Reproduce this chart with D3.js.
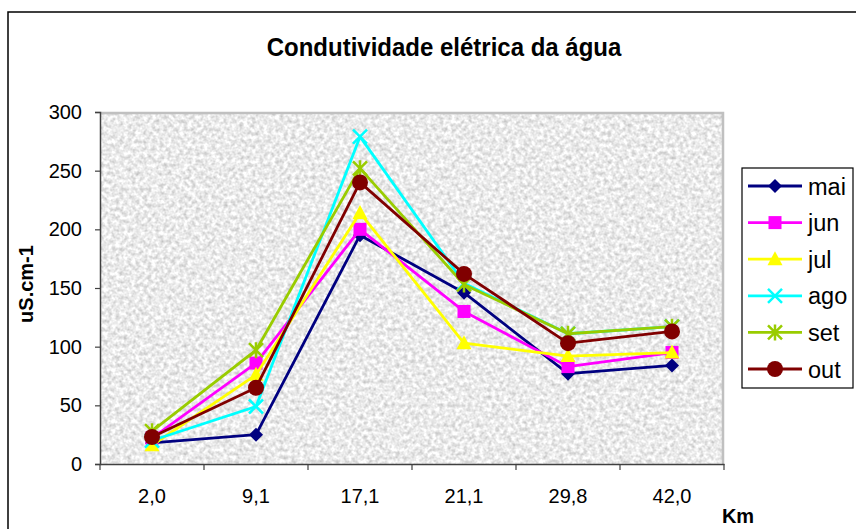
<!DOCTYPE html>
<html>
<head>
<meta charset="utf-8">
<script src="https://cdn.jsdelivr.net/npm/d3@7"></script>
<style>
  html, body { margin: 0; padding: 0; background: #fff; }
  svg { display: block; font-family: "Liberation Sans", Arial, sans-serif; }
</style>
</head>
<body>
<svg id="chart" width="856" height="529"></svg>
<script>
// ---- data ----
const categories = ["2,0", "9,1", "17,1", "21,1", "29,8", "42,0"];
const seriesNames = ["mai", "jun", "jul", "ago", "set", "out"];
const mai = [18, 25, 195, 146, 77, 84];
const jun = [22, 86, 200, 130, 83, 95];
const jul = [16, 76, 214, 103, 92, 95];
const ago = [20, 49, 279, 154, 111, 117];
const set = [28, 97, 252, 153, 111, 117];
const out = [23, 65, 240, 162, 103, 113];
const yTicks = [0, 50, 100, 150, 200, 250, 300];
const colors = ["#000080", "#FF00FF", "#FFFF00", "#00FFFF", "#99CC00", "#800000"];
const markers = ["diamond", "square", "triangle", "cross", "asterisk", "circle"];
const values = [mai, jun, jul, ago, set, out];

const svg = d3.select("#chart");
const plot = { left: 100, right: 724, top: 112, bottom: 464 };

// outer frame
svg.append("rect").attr("x", 8).attr("y", 12).attr("width", 900).attr("height", 600)
  .attr("fill", "none").attr("stroke", "#000").attr("stroke-width", 1.5);

// texture filter
const defs = svg.append("defs");
const f = defs.append("filter").attr("id", "granite")
  .attr("x", 0).attr("y", 0).attr("width", 1).attr("height", 1)
  .attr("color-interpolation-filters", "sRGB");
f.append("feTurbulence").attr("type", "fractalNoise").attr("baseFrequency", 0.25)
  .attr("numOctaves", 3).attr("seed", 7).attr("result", "noise");
f.append("feColorMatrix").attr("in", "noise").attr("type", "matrix")
  .attr("values", "0.4 0 0 0 0.72  0.4 0 0 0 0.72  0.4 0 0 0 0.72  0 0 0 0 1")
  .attr("result", "gray");
f.append("feComposite").attr("in", "gray").attr("in2", "SourceGraphic").attr("operator", "in");

const x = d3.scaleBand().domain(categories).range([plot.left, plot.right]).padding(0);
const y = d3.scaleLinear().domain([0, 300]).range([plot.bottom, plot.top]);
const cx = d => x(d) + x.bandwidth() / 2;

// plot area
svg.append("rect").attr("x", plot.left).attr("y", plot.top)
  .attr("width", plot.right - plot.left).attr("height", plot.bottom - plot.top)
  .attr("fill", "#ececec").attr("filter", "url(#granite)");
svg.append("path")
  .attr("d", `M${plot.left},${plot.top + 1}H${plot.right - 1}V${plot.bottom}`)
  .attr("fill", "none").attr("stroke", "#c0c0c0").attr("stroke-width", 2.5);

// title
svg.append("text").attr("transform", "translate(444,56) scale(1,1.1)").attr("text-anchor", "middle")
  .attr("font-size", 24).attr("font-weight", "bold").text("Condutividade elétrica da água");

// y axis
const yAxis = d3.axisLeft(y).tickValues(yTicks).tickSize(5).tickPadding(13);
const gy = svg.append("g").attr("transform", `translate(${plot.left},0)`).call(yAxis);
gy.select(".domain").attr("stroke", "#404040").attr("stroke-width", 1.5);
gy.selectAll(".tick line").attr("stroke", "#404040").attr("stroke-width", 1.2);
gy.selectAll(".tick text").attr("font-size", 20).attr("font-family", "Liberation Sans, Arial, sans-serif").attr("fill", "#000");

// x axis
const xAxis = d3.axisBottom(x).tickSize(0).tickPadding(25);
const gx = svg.append("g").attr("transform", `translate(0,${plot.bottom})`).call(xAxis);
gx.select(".domain").attr("stroke", "#404040").attr("stroke-width", 1.5);
gx.selectAll(".tick text").attr("font-size", 20).attr("font-family", "Liberation Sans, Arial, sans-serif").attr("fill", "#000");
const edges = categories.map(c => x(c)).concat([plot.right]);
gx.selectAll(".edge").data(edges).enter().append("line")
  .attr("x1", d => d).attr("x2", d => d).attr("y1", 0).attr("y2", 6)
  .attr("stroke", "#404040").attr("stroke-width", 1.2);

// axis titles
svg.append("text").attr("transform", "translate(33,284) rotate(-90)")
  .attr("text-anchor", "middle").attr("font-size", 20).attr("font-weight", "bold").text("uS.cm-1");
svg.append("text").attr("x", 738).attr("y", 523).attr("text-anchor", "middle")
  .attr("font-size", 20).attr("font-weight", "bold").text("Km");

function drawMarker(g, type, color, px, py) {
  const s = 7;
  if (type === "diamond") {
    g.append("path").attr("d", `M${px},${py - s}L${px + s},${py}L${px},${py + s}L${px - s},${py}Z`).attr("fill", color);
  } else if (type === "square") {
    g.append("rect").attr("x", px - 6.5).attr("y", py - 6.5).attr("width", 13).attr("height", 13).attr("fill", color);
  } else if (type === "triangle") {
    g.append("path").attr("d", `M${px},${py - 8}L${px + 7.5},${py + 6}L${px - 7.5},${py + 6}Z`).attr("fill", color);
  } else if (type === "cross") {
    g.append("path").attr("d", `M${px - 7},${py - 7}L${px + 7},${py + 7}M${px + 7},${py - 7}L${px - 7},${py + 7}`)
      .attr("stroke", color).attr("stroke-width", 2.5).attr("fill", "none");
  } else if (type === "asterisk") {
    g.append("path").attr("d", `M${px - 7},${py - 7}L${px + 7},${py + 7}M${px + 7},${py - 7}L${px - 7},${py + 7}M${px},${py - 8}L${px},${py + 8}`)
      .attr("stroke", color).attr("stroke-width", 2.5).attr("fill", "none");
  } else if (type === "circle") {
    g.append("circle").attr("cx", px).attr("cy", py).attr("r", 8).attr("fill", color);
  }
}

const line = d3.line().x((d, i) => cx(categories[i])).y(d => y(d));
values.forEach((vals, si) => {
  const g = svg.append("g");
  g.append("path").attr("d", line(vals)).attr("fill", "none")
    .attr("stroke", colors[si]).attr("stroke-width", 2.8).attr("stroke-linejoin", "round");
  vals.forEach((v, i) => drawMarker(g, markers[si], colors[si], cx(categories[i]), y(v)));
});

// legend
svg.append("rect").attr("x", 742).attr("y", 168).attr("width", 111).attr("height", 220)
  .attr("fill", "#fff").attr("stroke", "#000").attr("stroke-width", 1.2);
const ly = d3.scaleLinear().domain([0, 5]).range([186, 369]);
seriesNames.forEach((name, si) => {
  const g = svg.append("g");
  const yy = ly(si);
  g.append("line").attr("x1", 748).attr("x2", 802).attr("y1", yy).attr("y2", yy)
    .attr("stroke", colors[si]).attr("stroke-width", 2.8);
  drawMarker(g, markers[si], colors[si], 775, yy);
  g.append("text").attr("x", 808).attr("y", yy + 8.5).attr("font-size", 23.5).text(name);
});
</script>
</body>
</html>
